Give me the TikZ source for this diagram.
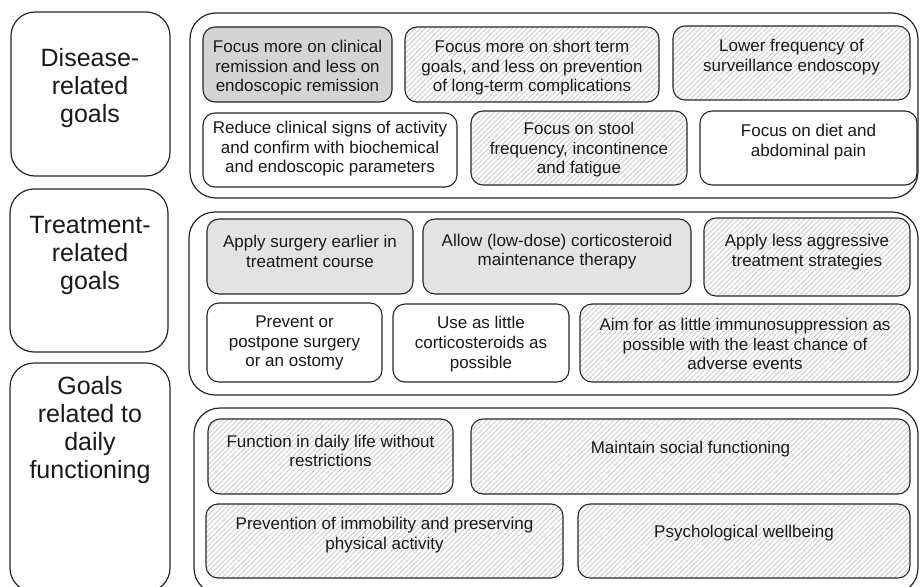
\documentclass[tikz,border=0pt]{standalone}
\usepackage{fontspec}
\setmainfont{Liberation Sans}
\usetikzlibrary{patterns.meta}
\definecolor{edge}{HTML}{262626}
\definecolor{darkfill}{HTML}{D4D4D4}
\definecolor{lightfill}{HTML}{E3E3E3}
\definecolor{hatchcol}{HTML}{CCCCCC}
\tikzset{
  base/.style={draw=edge, line width=1.1pt, inner sep=0pt, outer sep=0pt, rounded corners=12pt, rectangle},
  plainbox/.style={base, fill=white},
  darkbox/.style={base, fill=darkfill},
  lightbox/.style={base, fill=lightfill},
  hatchbox/.style={base, pattern={Lines[angle=45,distance=3.6pt,line width=0.9pt]}, pattern color=hatchcol},
  groupbox/.style={draw=edge, line width=1.2pt, inner sep=0pt, outer sep=0pt, rounded corners=26pt, rectangle},
  catbox/.style={draw=edge, line width=1.2pt, inner sep=0pt, outer sep=0pt, rounded corners=24pt, rectangle},
  txt/.style={align=center, inner sep=0pt, font=\fontsize{17}{19.6}\selectfont, text=black!90},
  cattxt/.style={align=center, inner sep=0pt, font=\fontsize{25}{28}\selectfont, text=black!90}
}
\newcommand\mkbox[6]{\node[#2, minimum width={(#5-#3)*1pt}, minimum height={(#6-#4)*1pt}] (#1) at ({(#3+#5)/2},{(#4+#6)/2}) {};}
\begin{document}
\begin{tikzpicture}[x=1pt,y=-1pt]
\useasboundingbox (0,0) rectangle (920,586);
% category boxes
\mkbox{c1}{catbox}{11}{12}{170}{176}
\mkbox{c2}{catbox}{10}{189}{168}{352}
\mkbox{c3}{catbox}{10}{363}{170}{592}
\node[cattxt] (c1t) at (90,88) {Disease-\\related\\goals};
\node[cattxt] (c2t) at (90,255) {Treatment-\\related\\goals};
\node[cattxt] (c3t) at (90,430) {Goals\\related to\\daily\\functioning};
% group containers
\mkbox{g1}{groupbox}{190}{13}{918}{198}
\mkbox{g2}{groupbox}{189}{212}{918}{395}
\mkbox{g3}{groupbox}{194}{408}{918}{594}
% disease-related
\mkbox{a1}{darkbox}{203}{27}{392}{102}
\mkbox{a2}{hatchbox}{405}{27}{659}{102}
\mkbox{a3}{hatchbox}{673}{26}{910}{100}
\mkbox{b1}{plainbox}{203}{113}{457}{187}
\mkbox{b2}{hatchbox}{471}{111}{687}{185}
\mkbox{b3}{plainbox}{700}{111}{917}{185}
\node[txt] (a1t) at (297.5,68) {Focus more on clinical\\remission and less on\\endoscopic remission};
\node[txt] (a2t) at (532,68) {Focus more on short term\\goals, and less on prevention\\of long-term complications};
\node[txt] (a3t) at (791.5,57) {Lower frequency of\\surveillance endoscopy};
\node[txt] (b1t) at (330,149) {Reduce clinical signs of activity\\and confirm with biochemical\\and endoscopic parameters};
\node[txt] (b2t) at (579,150) {Focus on stool\\frequency, incontinence\\and fatigue};
\node[txt] (b3t) at (808.5,142) {Focus on diet and\\abdominal pain};
% treatment-related
\mkbox{d1}{lightbox}{207}{219}{413}{294}
\mkbox{d2}{lightbox}{423}{219}{691}{294}
\mkbox{d3}{hatchbox}{704}{218}{910}{296}
\mkbox{e1}{plainbox}{207}{303}{382}{382}
\mkbox{e2}{plainbox}{393}{304}{569}{382}
\mkbox{e3}{hatchbox}{580}{304}{910}{382}
\node[txt] (d1t) at (310,251.5) {Apply surgery earlier in\\treatment course};
\node[txt] (d2t) at (557,251.5) {Allow (low-dose) corticosteroid\\maintenance therapy};
\node[txt] (d3t) at (807,252) {Apply less aggressive\\treatment strategies};
\node[txt] (e1t) at (294.5,343) {Prevent or\\postpone surgery\\or an ostomy};
\node[txt] (e2t) at (481,344) {Use as little\\corticosteroids as\\possible};
\node[txt] (e3t) at (745,344) {Aim for as little immunosuppression as\\possible with the least chance of\\adverse events};
% daily functioning
\mkbox{f1}{hatchbox}{208}{419}{453}{494}
\mkbox{f2}{hatchbox}{471}{419}{910}{494}
\mkbox{h1}{hatchbox}{206}{504}{563}{578}
\mkbox{h2}{hatchbox}{578}{504}{910}{578}
\node[txt] (f1t) at (330.5,451) {Function in daily life without\\restrictions};
\node[txt] (f2t) at (690.5,449) {Maintain social functioning};
\node[txt] (h1t) at (384.5,535) {Prevention of immobility and preserving\\physical activity};
\node[txt] (h2t) at (744,533) {Psychological wellbeing};
\end{tikzpicture}
\end{document}
